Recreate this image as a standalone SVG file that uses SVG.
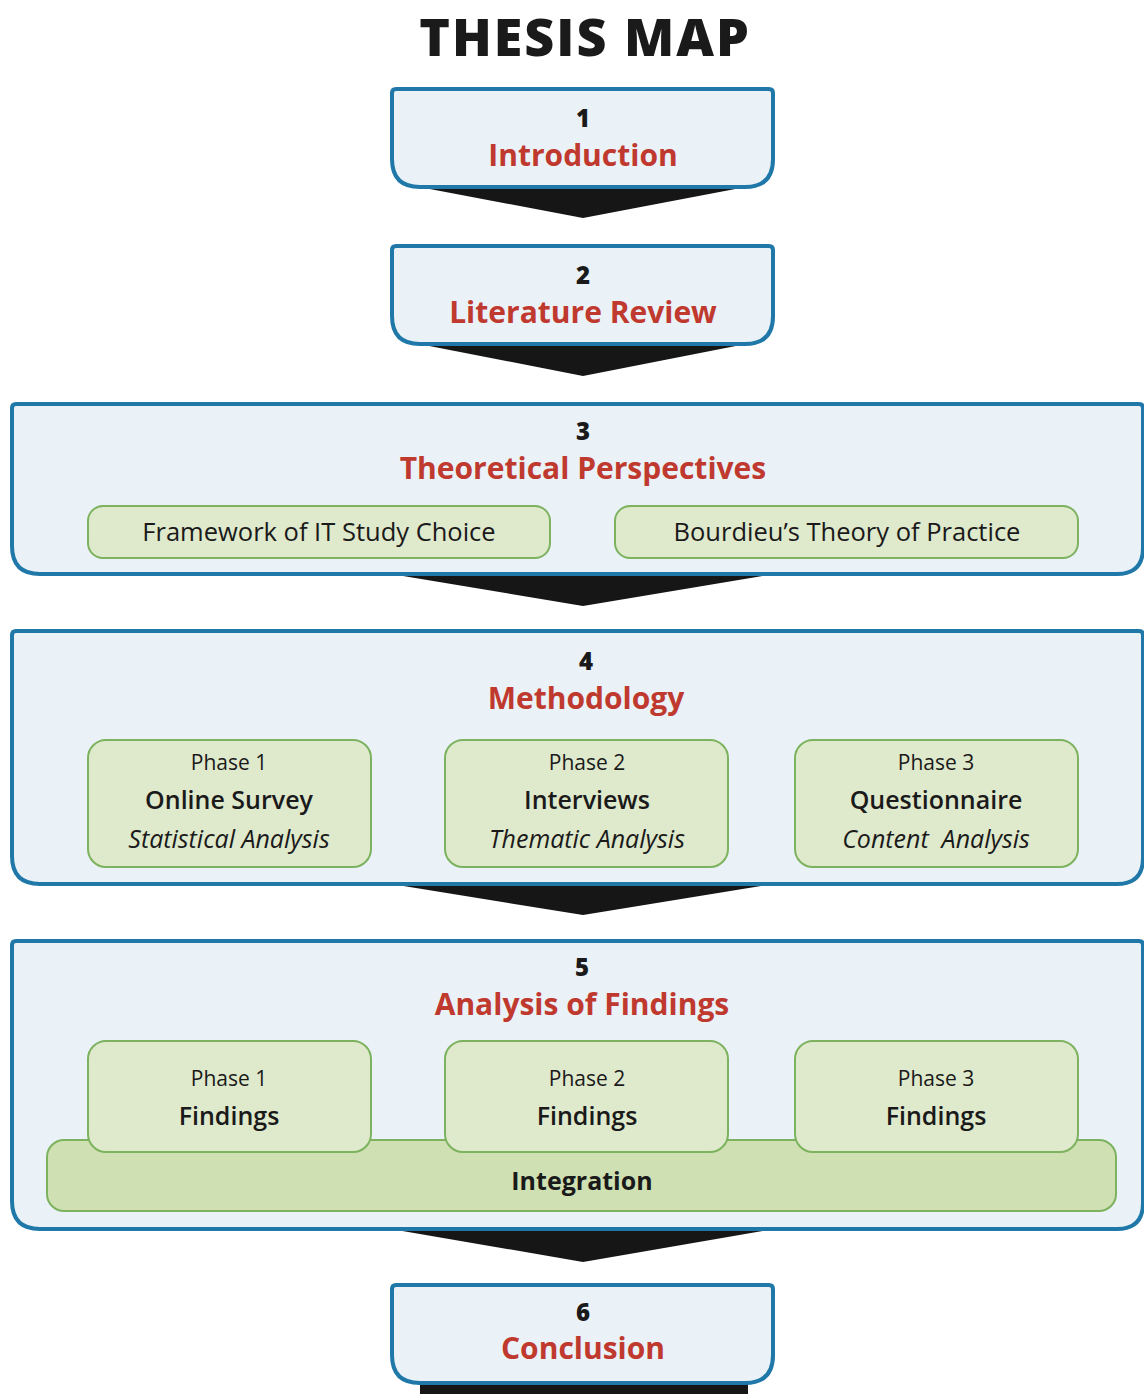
<svg xmlns="http://www.w3.org/2000/svg" width="1144" height="1394" viewBox="0 0 1144 1394">
  <defs>
    <style>
      .chapter { fill: #eaf2f8; stroke: #1f78a8; stroke-width: 4; }
      .part { fill: #dfe9cc; stroke: #7db25e; stroke-width: 2; }
      .base { fill: #cfe0b3; stroke: #7db25e; stroke-width: 2; }
      .arrow { fill: #161616; }
      text { font-family: "Open Sans", "Noto Sans", "Liberation Sans", sans-serif; text-anchor: middle; fill: #1a1a1a; }
      .title { font-size: 52px; font-weight: 800; letter-spacing: 2px; }
      .num { font-size: 24px; font-weight: 800; }
      .head { font-size: 30px; font-weight: 700; fill: #c0392f; }
      .label { font-size: 25.5px; font-weight: 400; }
      .phase { font-size: 21px; font-weight: 400; }
      .name { font-size: 25px; font-weight: 600; }
      .method { font-size: 25px; font-weight: 400; font-style: italic; }
      .integ { font-size: 25px; font-weight: 700; }
    </style>
  </defs>

  <rect width="1144" height="1394" fill="#ffffff"/>

  <text class="title" x="585" y="56">THESIS MAP</text>

  <!-- downward chevrons linking chapters -->
  <g id="connectors">
    <polygon class="arrow" points="414,186 751,186 583,218"/>
    <polygon class="arrow" points="414,343 751,343 583,376"/>
    <polygon class="arrow" points="385,573 780,573 583,606"/>
    <polygon class="arrow" points="385,883 780,883 583,915"/>
    <polygon class="arrow" points="385,1228 780,1228 583,1262"/>
    <rect class="arrow" x="420" y="1382" width="328" height="12"/>
  </g>

  <g id="ch1">
    <path class="chapter" d="M392,93 Q392,89 396,89 L769,89 Q773,89 773,93 L773,159 Q773,187 745,187 L420,187 Q392,187 392,159 Z"/>
    <text class="num" x="583" y="127">1</text>
    <text class="head" x="583" y="166">Introduction</text>
  </g>

  <g id="ch2">
    <path class="chapter" d="M392,250 Q392,246 396,246 L769,246 Q773,246 773,250 L773,316 Q773,344 745,344 L420,344 Q392,344 392,316 Z"/>
    <text class="num" x="583" y="284">2</text>
    <text class="head" x="583" y="323">Literature Review</text>
  </g>

  <g id="ch3">
    <path class="chapter" d="M12,408 Q12,404 16,404 L1139,404 Q1143,404 1143,408 L1143,548 Q1143,574 1117,574 L40,574 Q12,574 12,546 Z"/>
    <text class="num" x="583" y="440">3</text>
    <text class="head" x="583" y="479">Theoretical Perspectives</text>
  </g>
  <g id="framework">
    <rect class="part" x="88" y="506" width="462" height="52" rx="15"/>
    <text class="label" x="319" y="541">Framework of IT Study Choice</text>
  </g>
  <g id="bourdieu">
    <rect class="part" x="615" y="506" width="463" height="52" rx="15"/>
    <text class="label" x="847" y="541">Bourdieu’s Theory of Practice</text>
  </g>

  <g id="ch4">
    <path class="chapter" d="M12,635 Q12,631 16,631 L1139,631 Q1143,631 1143,635 L1143,858 Q1143,884 1117,884 L40,884 Q12,884 12,856 Z"/>
    <text class="num" x="586" y="670">4</text>
    <text class="head" x="586" y="709">Methodology</text>
  </g>
  <g id="m-phase1">
    <rect class="part" x="88" y="740" width="283" height="127" rx="18"/>
    <text class="phase" x="229" y="770">Phase 1</text>
    <text class="name" x="229" y="809">Online Survey</text>
    <text class="method" x="229" y="848">Statistical Analysis</text>
  </g>
  <g id="m-phase2">
    <rect class="part" x="445" y="740" width="283" height="127" rx="18"/>
    <text class="phase" x="587" y="770">Phase 2</text>
    <text class="name" x="587" y="809">Interviews</text>
    <text class="method" x="587" y="848">Thematic Analysis</text>
  </g>
  <g id="m-phase3">
    <rect class="part" x="795" y="740" width="283" height="127" rx="18"/>
    <text class="phase" x="936" y="770">Phase 3</text>
    <text class="name" x="936" y="809">Questionnaire</text>
    <text class="method" x="936" y="848" xml:space="preserve">Content  Analysis</text>
  </g>

  <g id="ch5">
    <path class="chapter" d="M12,945 Q12,941 16,941 L1139,941 Q1143,941 1143,945 L1143,1203 Q1143,1229 1117,1229 L40,1229 Q12,1229 12,1201 Z"/>
    <text class="num" x="582" y="976">5</text>
    <text class="head" x="582" y="1015">Analysis of Findings</text>
  </g>
  <g id="integration">
    <rect class="base" x="47" y="1140" width="1069" height="71" rx="17"/>
    <text class="integ" x="582" y="1190">Integration</text>
  </g>
  <g id="f-phase1">
    <rect class="part" x="88" y="1041" width="283" height="111" rx="18"/>
    <text class="phase" x="229" y="1086">Phase 1</text>
    <text class="name" x="229" y="1125">Findings</text>
  </g>
  <g id="f-phase2">
    <rect class="part" x="445" y="1041" width="283" height="111" rx="18"/>
    <text class="phase" x="587" y="1086">Phase 2</text>
    <text class="name" x="587" y="1125">Findings</text>
  </g>
  <g id="f-phase3">
    <rect class="part" x="795" y="1041" width="283" height="111" rx="18"/>
    <text class="phase" x="936" y="1086">Phase 3</text>
    <text class="name" x="936" y="1125">Findings</text>
  </g>

  <g id="ch6">
    <path class="chapter" d="M392,1289 Q392,1285 396,1285 L769,1285 Q773,1285 773,1289 L773,1355 Q773,1383 745,1383 L420,1383 Q392,1383 392,1355 Z"/>
    <text class="num" x="583" y="1321">6</text>
    <text class="head" x="583" y="1359">Conclusion</text>
  </g>
</svg>
